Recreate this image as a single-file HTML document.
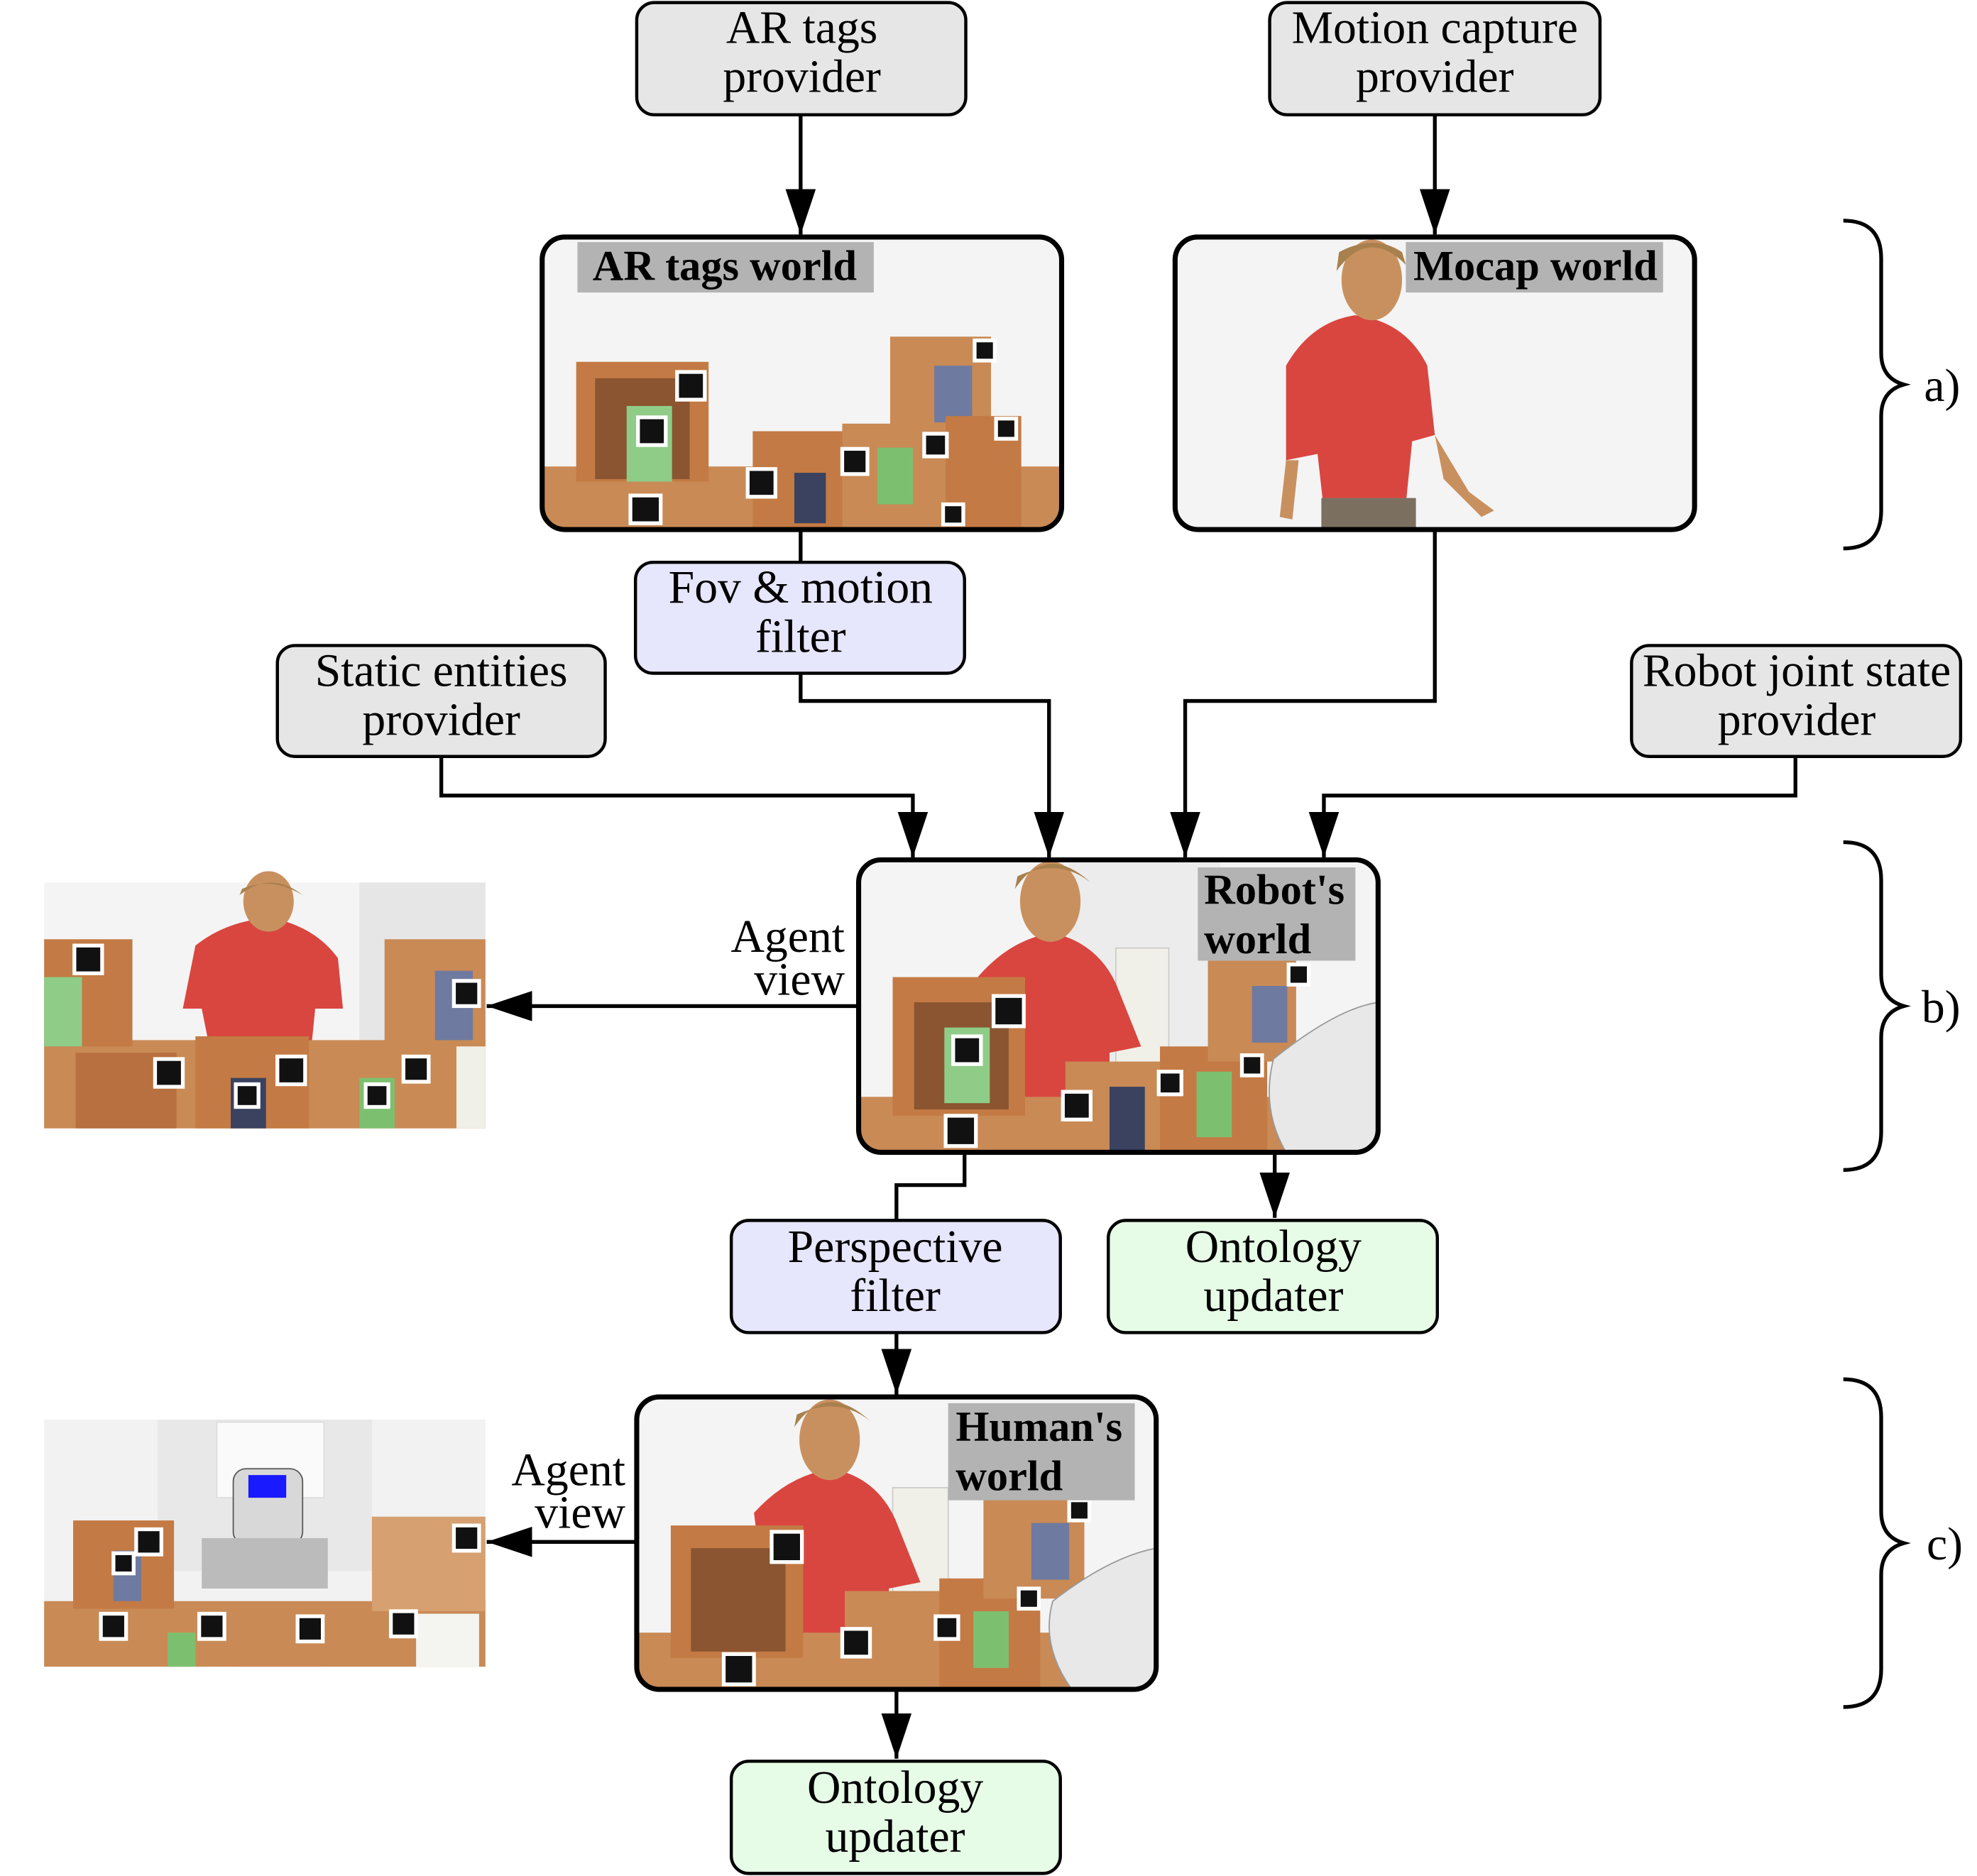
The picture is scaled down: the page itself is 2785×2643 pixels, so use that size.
<!DOCTYPE html>
<html><head><meta charset="utf-8"><style>
html,body{margin:0;padding:0;background:#fff}
svg{display:block}
text{font-family:"Liberation Serif",serif;font-size:37px;fill:#000}
.b{font-weight:bold;font-size:34px}
</style></head><body>
<svg width="2785" height="2643" viewBox="0 0 1568 1488" xmlns="http://www.w3.org/2000/svg">
<defs>
<marker id="a" markerWidth="36" markerHeight="24" refX="36" refY="12" orient="auto" markerUnits="userSpaceOnUse" viewBox="0 0 36 24">
<path d="M0,0 L36,12 L0,24 Z" fill="#000"/></marker>
<clipPath id="c1"><rect x="430" y="188" width="412" height="232" rx="18"/></clipPath>
<clipPath id="c2"><rect x="932" y="188" width="412" height="232" rx="18"/></clipPath>
<clipPath id="c3"><rect x="681" y="682" width="412" height="232" rx="18"/></clipPath>
<clipPath id="c4"><rect x="505" y="1108" width="412" height="232" rx="18"/></clipPath>
</defs>
<g fill="none" stroke="#000" stroke-width="3">
<path d="M635,91 V186" marker-end="url(#a)"/>
<path d="M1138,91 V186" marker-end="url(#a)"/>
<path d="M635,420 V446"/>
<path d="M635,534 V556 H832 V680" marker-end="url(#a)"/>
<path d="M1138,420 V556 H940 V680" marker-end="url(#a)"/>
<path d="M350,600 V631 H724 V680" marker-end="url(#a)"/>
<path d="M1424,600 V631 H1050 V680" marker-end="url(#a)"/>
<path d="M681,798 H386" marker-end="url(#a)"/>
<path d="M765,914 V940 H711 V968"/>
<path d="M1011,914 V966" marker-end="url(#a)"/>
<path d="M711,1057 V1106" marker-end="url(#a)"/>
<path d="M505,1223 H386" marker-end="url(#a)"/>
<path d="M711,1340 V1395" marker-end="url(#a)"/>
</g>
<g fill="none" stroke="#000" stroke-width="3">
<path d="M1462,175 Q1492,175 1492,205 V280 Q1492,300 1510,305 Q1492,310 1492,330 V405 Q1492,435 1462,435"/>
<path d="M1462,668 Q1492,668 1492,698 V773 Q1492,793 1510,798 Q1492,803 1492,823 V898 Q1492,928 1462,928"/>
<path d="M1462,1094 Q1492,1094 1492,1124 V1199 Q1492,1219 1510,1224 Q1492,1229 1492,1249 V1324 Q1492,1354 1462,1354"/>
</g>
<text x="1526" y="318">a)</text><text x="1524" y="811">b)</text><text x="1528" y="1237">c)</text>
<g stroke="#000" stroke-width="2.5">
<rect x="505" y="2" width="261" height="89" rx="14" fill="#e6e6e6"/>
<rect x="1007" y="2" width="262" height="89" rx="14" fill="#e6e6e6"/>
<rect x="504" y="446" width="261" height="88" rx="14" fill="#e6e6fc"/>
<rect x="220" y="512" width="260" height="88" rx="14" fill="#e6e6e6"/>
<rect x="1294" y="512" width="261" height="88" rx="14" fill="#e6e6e6"/>
<rect x="580" y="968" width="261" height="89" rx="14" fill="#e6e6fc"/>
<rect x="879" y="968" width="261" height="89" rx="14" fill="#e6fce6"/>
<rect x="580" y="1397" width="261" height="89" rx="14" fill="#e6fce6"/>
</g>
<g text-anchor="middle">
<text x="636" y="34">AR tags</text><text x="636" y="73">provider</text>
<text x="1138" y="34">Motion capture</text><text x="1138" y="73">provider</text>
<text x="635" y="478">Fov &amp; motion</text><text x="635" y="517">filter</text>
<text x="350" y="544">Static entities</text><text x="350" y="583">provider</text>
<text x="1425" y="544">Robot joint state</text><text x="1425" y="583">provider</text>
<text x="710" y="1001">Perspective</text><text x="710" y="1040">filter</text>
<text x="1010" y="1001">Ontology</text><text x="1010" y="1040">updater</text>
<text x="710" y="1430">Ontology</text><text x="710" y="1469">updater</text>
</g>
<g text-anchor="end">
<text x="670" y="755">Agent</text><text x="670" y="789">view</text>
<text x="496" y="1178">Agent</text><text x="496" y="1212">view</text>
</g>
<g clip-path="url(#c1)">
<rect x="430" y="188" width="412" height="232" fill="#f4f4f4"/>
<rect x="430" y="370" width="412" height="50" fill="#c98a55"/>
<rect x="457" y="287" width="105" height="95" fill="#c47a44"/><rect x="472" y="300" width="75" height="80" fill="#8a5530"/>
<rect x="497" y="322" width="36" height="60" fill="#8fcc88"/>
<rect x="597" y="342" width="90" height="78" fill="#c47a44"/><rect x="668" y="336" width="90" height="84" fill="#c98a55"/>
<rect x="706" y="267" width="80" height="80" fill="#c98a55"/><rect x="741" y="290" width="30" height="45" fill="#6e7aa0"/>
<rect x="750" y="330" width="60" height="90" fill="#c47a44"/><rect x="630" y="375" width="25" height="40" fill="#3a4260"/>
<rect x="696" y="355" width="28" height="45" fill="#7cc06f"/>
<g fill="#111" stroke="#fff" stroke-width="3"><rect x="537" y="295" width="22" height="22"/><rect x="506" y="331" width="22" height="22"/><rect x="500" y="393" width="24" height="22"/><rect x="593" y="372" width="22" height="22"/><rect x="668" y="356" width="20" height="20"/><rect x="733" y="344" width="18" height="18"/><rect x="773" y="270" width="16" height="16"/><rect x="790" y="332" width="16" height="16"/><rect x="748" y="400" width="16" height="16"/></g>
</g>
<rect x="458" y="192" width="235" height="40" fill="#b3b3b3"/>
<text class="b" x="470" y="222">AR tags world</text>
<rect x="430" y="188" width="412" height="232" rx="18" fill="none" stroke="#000" stroke-width="4"/>
<g clip-path="url(#c2)">
<rect x="932" y="188" width="412" height="232" fill="#f4f4f4"/>
<path d="M1020,290 Q1040,255 1075,250 Q1115,255 1132,290 L1138,345 L1120,350 L1115,400 L1050,405 L1045,360 L1020,365 Z" fill="#d9463f"/>
<rect x="1048" y="395" width="75" height="30" fill="#7b7060"/>
<ellipse cx="1088" cy="222" rx="24" ry="32" fill="#c9905f"/><path d="M1060,215 Q1085,180 1115,210 L1112,200 Q1090,185 1062,200 Z" fill="#a8804e"/>
<path d="M1020,365 L1015,410 L1025,412 L1030,365 Z M1138,345 L1165,390 L1185,405 L1175,410 L1145,380 Z" fill="#c9905f"/>
</g>
<rect x="1115" y="192" width="204" height="40" fill="#b3b3b3"/>
<text class="b" x="1121" y="222">Mocap world</text>
<rect x="932" y="188" width="412" height="232" rx="18" fill="none" stroke="#000" stroke-width="4"/>
<g clip-path="url(#c3)">
<rect x="681" y="682" width="412" height="232" fill="#f4f4f4"/>
<rect x="848" y="682" width="120" height="170" fill="#ececec"/>
<rect x="885" y="752" width="42" height="130" fill="#f0f0e8" stroke="#ccc"/>
<path d="M773,778 Q800,745 835,740 Q870,748 885,780 L905,830 L880,835 L880,914 L790,914 L780,830 Z" fill="#d9463f"/>
<ellipse cx="833" cy="715" rx="24" ry="32" fill="#c9905f"/><path d="M805,705 Q830,668 865,700 Q840,680 807,695 Z" fill="#a8804e"/>
<rect x="681" y="870" width="412" height="44" fill="#c98a55"/>
<rect x="708" y="775" width="105" height="110" fill="#c47a44"/><rect x="725" y="795" width="75" height="85" fill="#8a5530"/>
<rect x="749" y="815" width="36" height="60" fill="#8fcc88"/>
<rect x="845" y="842" width="92" height="72" fill="#c98a55"/><rect x="920" y="830" width="85" height="84" fill="#c47a44"/>
<rect x="958" y="762" width="70" height="80" fill="#c98a55"/><rect x="993" y="782" width="28" height="45" fill="#6e7aa0"/>
<rect x="880" y="862" width="28" height="52" fill="#3a4260"/><rect x="949" y="850" width="28" height="52" fill="#7cc06f"/>
<path d="M1010,840 Q1060,800 1093,795 L1093,914 L1020,914 Q1000,880 1010,840 Z" fill="#e8e8e8" stroke="#999"/>
<g fill="#111" stroke="#fff" stroke-width="3"><rect x="788" y="790" width="24" height="24"/><rect x="756" y="822" width="22" height="22"/><rect x="750" y="885" width="24" height="24"/><rect x="843" y="866" width="22" height="22"/><rect x="919" y="850" width="18" height="18"/><rect x="985" y="837" width="16" height="16"/><rect x="1022" y="765" width="16" height="16"/></g>
</g>
<rect x="950" y="688" width="125" height="74" fill="#b3b3b3"/>
<text class="b" x="955" y="717">Robot's</text><text class="b" x="955" y="756">world</text>
<rect x="681" y="682" width="412" height="232" rx="18" fill="none" stroke="#000" stroke-width="4"/>
<g clip-path="url(#c4)">
<rect x="505" y="1108" width="412" height="232" fill="#f4f4f4"/>
<rect x="708" y="1180" width="44" height="115" fill="#f0f0e8" stroke="#ccc"/>
<path d="M598,1200 Q625,1170 660,1165 Q695,1172 710,1205 L730,1255 L705,1260 L705,1340 L615,1340 L605,1255 Z" fill="#d9463f"/>
<ellipse cx="658" cy="1142" rx="24" ry="32" fill="#c9905f"/><path d="M630,1132 Q655,1095 690,1127 Q665,1107 632,1122 Z" fill="#a8804e"/>
<rect x="505" y="1295" width="412" height="45" fill="#c98a55"/>
<rect x="532" y="1210" width="105" height="105" fill="#c47a44"/><rect x="548" y="1228" width="75" height="82" fill="#8a5530"/>
<rect x="670" y="1262" width="85" height="78" fill="#c98a55"/><rect x="745" y="1252" width="80" height="88" fill="#c47a44"/>
<rect x="780" y="1188" width="80" height="80" fill="#c98a55"/><rect x="818" y="1208" width="30" height="45" fill="#6e7aa0"/>
<rect x="772" y="1278" width="28" height="45" fill="#7cc06f"/>
<path d="M835,1270 Q880,1235 917,1228 L917,1340 L850,1340 Q825,1305 835,1270 Z" fill="#e8e8e8" stroke="#999"/>
<g fill="#111" stroke="#fff" stroke-width="3"><rect x="612" y="1215" width="24" height="24"/><rect x="574" y="1312" width="24" height="24"/><rect x="668" y="1292" width="22" height="22"/><rect x="742" y="1282" width="18" height="18"/><rect x="808" y="1260" width="16" height="16"/><rect x="848" y="1190" width="16" height="16"/></g>
</g>
<rect x="752" y="1113" width="148" height="77" fill="#b3b3b3"/>
<text class="b" x="758" y="1143">Human's</text><text class="b" x="758" y="1182">world</text>
<rect x="505" y="1108" width="412" height="232" rx="18" fill="none" stroke="#000" stroke-width="4"/>
<g>
<rect x="35" y="700" width="350" height="195" fill="#f4f4f4"/>
<rect x="285" y="700" width="100" height="140" fill="#e6e6e6"/>
<path d="M155,750 Q180,730 215,728 Q250,735 268,760 L272,800 L250,800 L245,850 L170,850 L160,800 L145,800 Z" fill="#d9463f"/>
<ellipse cx="213" cy="715" rx="20" ry="24" fill="#c9905f"/><path d="M190,710 Q215,690 240,710 Q215,695 192,705 Z" fill="#a8804e"/>
<rect x="35" y="825" width="350" height="70" fill="#c98a55"/>
<rect x="35" y="745" width="70" height="85" fill="#c47a44"/><rect x="35" y="775" width="30" height="55" fill="#8fcc88"/>
<rect x="155" y="822" width="90" height="73" fill="#c47a44"/><rect x="60" y="835" width="80" height="60" fill="#b87040"/>
<rect x="305" y="745" width="80" height="85" fill="#c98a55"/><rect x="345" y="770" width="30" height="55" fill="#6e7aa0"/>
<rect x="183" y="855" width="28" height="40" fill="#3a4260"/><rect x="285" y="855" width="28" height="40" fill="#7cc06f"/>
<rect x="362" y="830" width="23" height="65" fill="#f0f0e8"/>
<g fill="#111" stroke="#fff" stroke-width="3"><rect x="59" y="750" width="22" height="22"/><rect x="123" y="840" width="22" height="22"/><rect x="220" y="838" width="22" height="22"/><rect x="320" y="838" width="20" height="20"/><rect x="360" y="778" width="20" height="20"/><rect x="187" y="860" width="18" height="18"/><rect x="290" y="860" width="18" height="18"/></g>
</g>
<g>
<rect x="35" y="1126" width="350" height="196" fill="#f2f2f2"/>
<rect x="125" y="1126" width="170" height="120" fill="#e8e8e8"/><rect x="172" y="1128" width="85" height="60" fill="#fafafa" stroke="#ddd"/>
<rect x="185" y="1165" width="55" height="60" rx="10" fill="#d8d8d8" stroke="#555"/><rect x="197" y="1170" width="30" height="18" fill="#1a1aff"/>
<rect x="160" y="1220" width="100" height="40" fill="#bbb"/>
<rect x="35" y="1270" width="350" height="52" fill="#c98a55"/>
<rect x="58" y="1206" width="80" height="70" fill="#c47a44"/><rect x="90" y="1230" width="22" height="40" fill="#6e7aa0"/>
<rect x="295" y="1203" width="90" height="75" fill="#d6a070"/>
<rect x="185" y="1278" width="70" height="44" fill="#c98a55"/><rect x="133" y="1295" width="22" height="27" fill="#7cc06f"/>
<rect x="330" y="1280" width="50" height="42" fill="#f4f4f0"/>
<g fill="#111" stroke="#fff" stroke-width="3"><rect x="108" y="1213" width="20" height="20"/><rect x="90" y="1232" width="16" height="16"/><rect x="80" y="1280" width="20" height="20"/><rect x="158" y="1280" width="20" height="20"/><rect x="236" y="1282" width="20" height="20"/><rect x="310" y="1278" width="20" height="20"/><rect x="360" y="1210" width="20" height="20"/></g>
</g>
</svg>
</body></html>
